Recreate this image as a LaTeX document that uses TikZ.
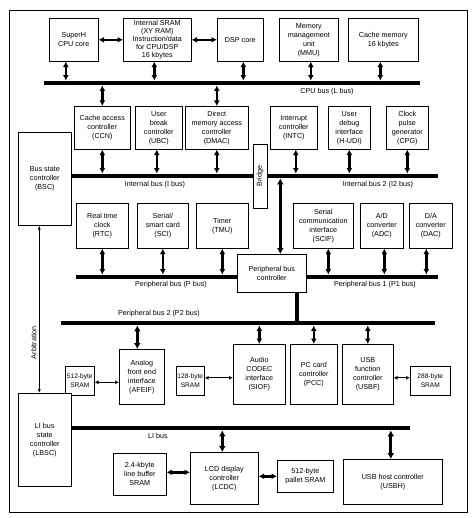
\documentclass[tikz,border=0pt]{standalone}
\usepackage{fontspec}
\setmainfont{Liberation Sans}
\usetikzlibrary{arrows.meta}
\tikzset{every picture/.style={/utils/exec={\fontsize{7.2}{9}\selectfont}}}

\begin{document}
\begin{tikzpicture}[x=1pt, y=-1pt, every node/.style={inner sep=0pt},
    blk/.style={draw, fill=white, align=center, anchor=north west, line width=0.6pt},
    smallblk/.style={blk, font=\fontsize{6.6}{8.5}\selectfont},
    bus/.style={fill=black, anchor=west, minimum height=4.5pt},
    link/.style={line width=2.4pt, {Latex[length=5.5pt,width=6pt]}-{Latex[length=5.5pt,width=6pt]}},
    fatlink/.style={line width=3.2pt, {Latex[length=6pt,width=7pt]}-{Latex[length=6pt,width=7pt]}},
    thinlink/.style={line width=1pt, {Latex[length=4pt,width=4pt]}-{Latex[length=4pt,width=4pt]}}]
  \useasboundingbox (0,0) rectangle (471,518);
  \draw [line width=0.6pt] (9,10) rectangle (467,512);

  % CPU side
  \node [blk, minimum width=49, minimum height=43] (cpu) at (49,18) {SuperH\\CPU core};
  \node [blk, minimum width=68, minimum height=43, font=\fontsize{7.2}{8}\selectfont] (sram) at (123,18) {Internal SRAM\\(XY RAM)\\Instruction/data\\for CPU/DSP\\16 kbytes};
  \node [blk, minimum width=46, minimum height=43] (dsp) at (217,18) {DSP core};
  \node [blk, minimum width=59, minimum height=43] (mmu) at (279,18) {Memory\\management\\unit\\(MMU)};
  \node [blk, minimum width=70, minimum height=43] (cache) at (348,18) {Cache memory\\16 kbytes};

  \node [bus, minimum width=376] (lbus) at (44,83) {};
  \node (lbuslbl) at (327,92) {CPU bus (L bus)};

  \draw [link] (cpu.east) -- (sram.west);
  \draw [link] (sram.east) -- (dsp.west);
  \draw [link] ([xshift=-8]cpu.south) -- ([xshift=-8]cpu.south |- lbus.north);
  \draw [link] ([xshift=-3]sram.south) -- ([xshift=-3]sram.south |- lbus.north);
  \draw [link] ([xshift=3]dsp.south) -- ([xshift=3]dsp.south |- lbus.north);
  \draw [link] ([xshift=2]mmu.south) -- ([xshift=2]mmu.south |- lbus.north);
  \draw [link] ([xshift=-3]cache.south) -- ([xshift=-3]cache.south |- lbus.north);

  % internal buses
  \node [blk, minimum width=56, minimum height=43] (ccn) at (74,106) {Cache access\\controller\\(CCN)};
  \node [blk, minimum width=47, minimum height=43] (ubc) at (135,106) {User\\break\\controller\\(UBC)};
  \node [blk, minimum width=63, minimum height=43] (dmac) at (185,106) {Direct\\memory access\\controller\\(DMAC)};
  \node [blk, minimum width=47, minimum height=43] (intc) at (270,106) {Interrupt\\controller\\(INTC)};
  \node [blk, minimum width=42, minimum height=43] (hudi) at (328,106) {User\\debug\\interface\\(H-UDI)};
  \node [blk, minimum width=42, minimum height=43] (cpg) at (386,106) {Clock\\pulse\\generator\\(CPG)};
  \node [blk, minimum width=53, minimum height=93] (bsc) at (18,132) {Bus state\\controller\\(BSC)};

  \node [bus, minimum width=182] (ibus) at (71,176) {};
  \node [bus, minimum width=171] (itwobus) at (267,176) {};
  \node [draw, fill=white, line width=0.6pt, rotate=90, minimum width=64, minimum height=14] (bridge) at (260,176) {Bridge};
  \node (ibuslbl) at (155,185) {Internal bus (I bus)};
  \node (itwobuslbl) at (378,185) {Internal bus 2 (I2 bus)};

  \draw [link] (ccn.north) -- (ccn.north |- lbus.south);
  \draw [link] (dmac.north) -- (dmac.north |- lbus.south);
  \draw [link] (ccn.south) -- (ccn.south |- ibus.north);
  \draw [link] ([xshift=-2]ubc.south) -- ([xshift=-2]ubc.south |- ibus.north);
  \draw [link] (dmac.south) -- (dmac.south |- ibus.north);
  \draw [link] ([xshift=2]intc.south) -- ([xshift=2]intc.south |- itwobus.north);
  \draw [link] (hudi.south) -- (hudi.south |- itwobus.north);
  \draw [link] (cpg.south) -- (cpg.south |- itwobus.north);

  % peripheral buses
  \node [blk, minimum width=52, minimum height=45] (rtc) at (76,203) {Real time\\clock\\(RTC)};
  \node [blk, minimum width=51, minimum height=45] (sci) at (137,203) {Serial/\\smart card\\(SCI)};
  \node [blk, minimum width=52, minimum height=45] (tmu) at (196,203) {Timer\\(TMU)};
  \node [blk, minimum width=60, minimum height=45] (scif) at (293,203) {Serial\\communication\\interface\\(SCIF)};
  \node [blk, minimum width=43, minimum height=45] (adc) at (360,203) {A/D\\converter\\(ADC)};
  \node [blk, minimum width=43, minimum height=45] (dac) at (409,203) {D/A\\converter\\(DAC)};

  \node [bus, minimum width=161] (pbus) at (76,277) {};
  \node [bus, minimum width=132] (ponebus) at (306,277) {};
  \node [bus, minimum width=374] (ptwobus) at (61,323) {};
  \node [blk, minimum width=69, minimum height=38] (pbc) at (237,254) {Peripheral bus\\controller};
  \node (pbuslbl) at (171,285) {Peripheral bus (P bus)};
  \node (ponebuslbl) at (375,285) {Peripheral bus 1 (P1 bus)};
  \node (ptwobuslbl) at (159,314) {Peripheral bus 2 (P2 bus)};

  \draw [fatlink] ([xshift=8.5]pbc.north) -- ([xshift=8.5]pbc.north |- itwobus.south);
  \draw [line width=4pt] ([xshift=25.5]pbc.south) -- ([xshift=25.5]pbc.south |- ptwobus.north);
  \draw [link] (rtc.south) -- (rtc.south |- pbus.north);
  \draw [link] (sci.south) -- (sci.south |- pbus.north);
  \draw [link] (tmu.south) -- (tmu.south |- pbus.north);
  \draw [link] ([xshift=5]scif.south) -- ([xshift=5]scif.south |- ponebus.north);
  \draw [link] ([xshift=2.5]adc.south) -- ([xshift=2.5]adc.south |- ponebus.north);
  \draw [link] ([xshift=-4.5]dac.south) -- ([xshift=-4.5]dac.south |- ponebus.north);

  \node [smallblk, minimum width=29, minimum height=29] (sramaf) at (65,366) {512-byte\\SRAM};
  \node [blk, minimum width=45, minimum height=55] (afeif) at (119,349) {Analog\\front end\\interface\\(AFEIF)};
  \node [smallblk, minimum width=28, minimum height=29] (sramsi) at (176,366) {128-byte\\SRAM};
  \node [blk, minimum width=52, minimum height=60] (siof) at (233,344) {Audio\\CODEC\\interface\\(SIOF)};
  \node [blk, minimum width=47, minimum height=60] (pcc) at (290,344) {PC card\\controller\\(PCC)};
  \node [blk, minimum width=51, minimum height=60] (usbf) at (342,344) {USB\\function\\controller\\(USBF)};
  \node [smallblk, minimum width=40, minimum height=29] (sramus) at (410,366) {288-byte\\SRAM};

  \draw [fatlink] ([xshift=-4.5]afeif.north) -- ([xshift=-4.5]afeif.north |- ptwobus.south);
  \draw [link] (siof.north) -- (siof.north |- ptwobus.south);
  \draw [link] (pcc.north) -- (pcc.north |- ptwobus.south);
  \draw [link] (usbf.north) -- (usbf.north |- ptwobus.south);
  \draw [thinlink] ([yshift=-1.5]sramaf.east) -- ([yshift=-1.5]sramaf.east -| afeif.west);
  \draw [thinlink] ([yshift=3]sramsi.east) -- ([yshift=3]sramsi.east -| siof.west);
  \draw [thinlink] ([yshift=3]sramus.west) -- ([yshift=3]sramus.west -| usbf.east);

  % LI bus
  \node [blk, minimum width=53, minimum height=93] (lbsc) at (18,393) {LI bus\\state\\controller\\(LBSC)};
  \node [bus, minimum width=339] (libus) at (71,428) {};
  \node (libuslbl) at (158,436) {LI bus};

  \node [blk, minimum width=53, minimum height=42] (linebuf) at (113,453) {2.4-kbyte\\line buffer\\SRAM};
  \node [blk, minimum width=68, minimum height=52] (lcdc) at (190,452) {LCD display\\controller\\(LCDC)};
  \node [blk, minimum width=56, minimum height=32] (pallet) at (277,460) {512-byte\\pallet SRAM};
  \node [blk, minimum width=99, minimum height=45] (usbh) at (343,459) {USB host controller\\(USBH)};

  \draw [fatlink] ([xshift=-2]lcdc.north) -- ([xshift=-2]lcdc.north |- libus.south);
  \draw [fatlink] ([xshift=-2]usbh.north) -- ([xshift=-2]usbh.north |- libus.south);
  \draw [link] ([yshift=2]linebuf.east) -- ([yshift=2]linebuf.east -| lcdc.west);
  \draw [link] (pallet.west) -- (pallet.west -| lcdc.east);

  \draw [line width=0.7pt, {Latex[length=4pt,width=3pt]}-{Latex[length=4pt,width=3pt]}] ([xshift=-5.5]bsc.south) -- node [pos=0.7, rotate=90, above=2.5pt] {Arbitration} ([xshift=-5.5]lbsc.north);
\end{tikzpicture}
\end{document}
